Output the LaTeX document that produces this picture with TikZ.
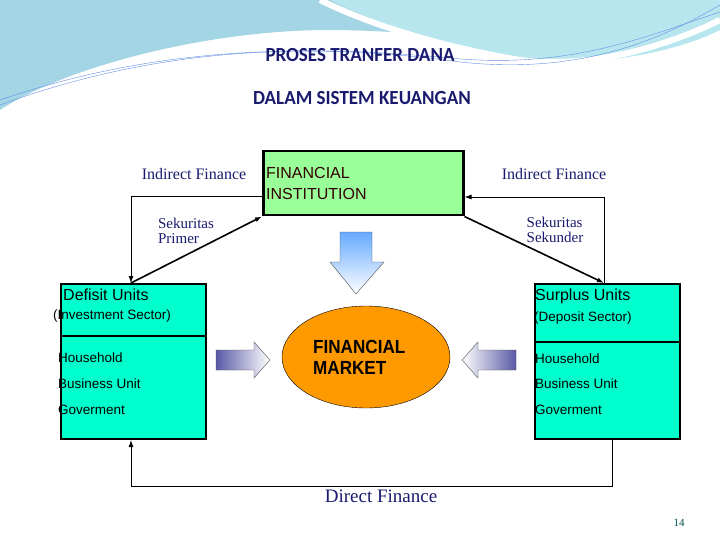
\documentclass[tikz,border=0pt]{standalone}
\usepackage{fontspec}
\setmainfont{Liberation Serif}
\newfontfamily\arialf{Liberation Sans}
\newfontfamily\titlef{Carlito}
\usetikzlibrary{positioning,shapes.geometric,arrows.meta}
\definecolor{navy}{HTML}{1A1A6E}
\definecolor{turq}{HTML}{00FFCC}
\definecolor{lgreen}{HTML}{99FF99}
\definecolor{orng}{HTML}{FF9900}
\definecolor{sky}{HTML}{8CCBDD}
\definecolor{skyl}{HTML}{B8E6EE}
\tikzset{
  unit/.style={draw=black,line width=2pt,fill=turq,minimum width=145pt,anchor=north west},
  lbl/.style={text=navy,font=\fontsize{16}{17}\selectfont},
  txt/.style={font=\arialf\fontsize{15}{17}\selectfont,inner sep=0pt,anchor=west},
  sml/.style={txt,font=\arialf\fontsize{13.5}{15}\selectfont},
  con/.style={line width=0.9pt,-{Latex[length=7pt,width=5pt]}},
  block/.style={draw=gray!60!black,thin},
}
\begin{document}
\begin{tikzpicture}[x=1pt,y=-1pt]
  \useasboundingbox (0,0) rectangle (720,540);
  % background swoosh
  \fill[sky!80] (0,0) -- (720,0) -- (720,20) .. controls (600,60) and (450,30) .. (330,30)
     .. controls (200,30) and (60,70) .. (0,110) -- cycle;
  \fill[skyl] (330,0) -- (720,0) -- (720,30) .. controls (660,60) and (560,70) .. (500,55)
     .. controls (420,40) and (360,15) .. (330,0) -- cycle;
  \draw[white,line width=6pt] (320,0) .. controls (360,20) and (430,45) .. (520,60)
     .. controls (600,70) and (680,40) .. (720,20);
  \draw[sky!70!blue,thin] (0,105) .. controls (150,50) and (300,40) .. (460,62)
     .. controls (580,75) and (660,40) .. (720,5);
  \draw[sky!70!blue,thin] (0,100) .. controls (160,45) and (310,45) .. (450,58)
     .. controls (570,70) and (650,35) .. (720,12);

  % title
  \node[text=navy,font=\titlef\bfseries\fontsize{20}{21}\selectfont,xscale=0.95] (title1) at (360,55) {PROSES TRANFER DANA};
  \node[text=navy,font=\titlef\bfseries\fontsize{20}{21}\selectfont,xscale=0.95] (title2) at (362,98) {DALAM SISTEM KEUANGAN};

  % boxes
  \node[draw=black,line width=2.5pt,fill=lgreen,minimum width=200pt,minimum height=64pt,anchor=north west] (fi) at (262,150) {};
  \node[txt,align=left,text=black!80!red,font=\arialf\fontsize{16}{18}\selectfont] at (266,183) {FINANCIAL\\[3pt]INSTITUTION};
  \node[unit,minimum height=53pt] (def) at (60,283) {};
  \node[unit,minimum height=103pt] (defb) at (60,335) {};
  \node[unit,minimum height=59pt] (sur) at (534,283) {};
  \node[unit,minimum height=97pt] (surb) at (534,341) {};
  \node[txt,font=\arialf\fontsize{16}{18}\selectfont] at (63,295) {Defisit Units};
  \node[sml] at (53,316) {(Investment Sector)};
  \node[txt,font=\arialf\fontsize{16}{18}\selectfont] at (535,296) {Surplus Units};
  \node[sml] at (534,318) {(Deposit Sector)};
  \node[sml] at (58,358) {Household};
  \node[sml] at (58,384) {Business Unit};
  \node[sml] at (58,410) {Goverment};
  \node[sml] at (535,359) {Household};
  \node[sml] at (535,384) {Business Unit};
  \node[sml] at (535,410) {Goverment};
  \node[ellipse,draw=black,fill=orng,minimum width=168pt,minimum height=102pt] (fm) at (366,357) {};
  \node[txt,font=\arialf\bfseries\fontsize{19}{21}\selectfont,align=left,xscale=0.9] at (313,357) {FINANCIAL\\MARKET};

  % block arrows
  \shade[top color=blue!55!cyan!60,bottom color=white,block] (340,232) -- (372,232) -- (372,262)
     -- (384,262) -- (356,294) -- (330,262) -- (340,262) -- cycle;
  \shade[left color=gray!70!blue,right color=white,block] (216,350) -- (254,350) -- (254,342)
     -- (270,360) -- (254,378) -- (254,370) -- (216,370) -- cycle;
  \shade[right color=gray!70!blue,left color=white,block] (516,350) -- (478,350) -- (478,342)
     -- (462,360) -- (478,378) -- (478,370) -- (516,370) -- cycle;

  % connectors
  \coordinate (l1) at (131,196);
  \coordinate (r1) at (604,197);
  \coordinate (b1) at (131,486);
  \coordinate (b2) at (612,486);
  \draw[con] (fi.west |- l1) -- (l1) -- (l1 |- def.north);
  \draw[con,line width=1.6pt] (def.north -| l1) -- (fi.south west);
  \draw[con,line width=1.6pt] (fi.south east) -- (r1 |- sur.north);
  \draw[con] (r1 |- sur.north) -- (r1) -- (fi.east |- r1);
  \draw[con] (b2 |- surb.south) -- (b2) -- (b1) -- (b1 |- defb.south);

  % labels
  \node[lbl] (if1) at (194,174) {Indirect Finance};
  \node[lbl] (if2) at (554,174) {Indirect Finance};
  \node[lbl,align=left,font=\fontsize{15}{15}\selectfont] (sp) at (186,231) {Sekuritas\\Primer};
  \node[lbl,align=left,font=\fontsize{15}{15}\selectfont] (ss) at (555,230) {Sekuritas\\Sekunder};
  \node[lbl,font=\fontsize{19}{20}\selectfont] (df) at (381,496) {Direct Finance};
  \node[text=teal!60!black,font=\fontsize{11}{12}\selectfont] (pg) at (679,523) {14};
\end{tikzpicture}
\end{document}
